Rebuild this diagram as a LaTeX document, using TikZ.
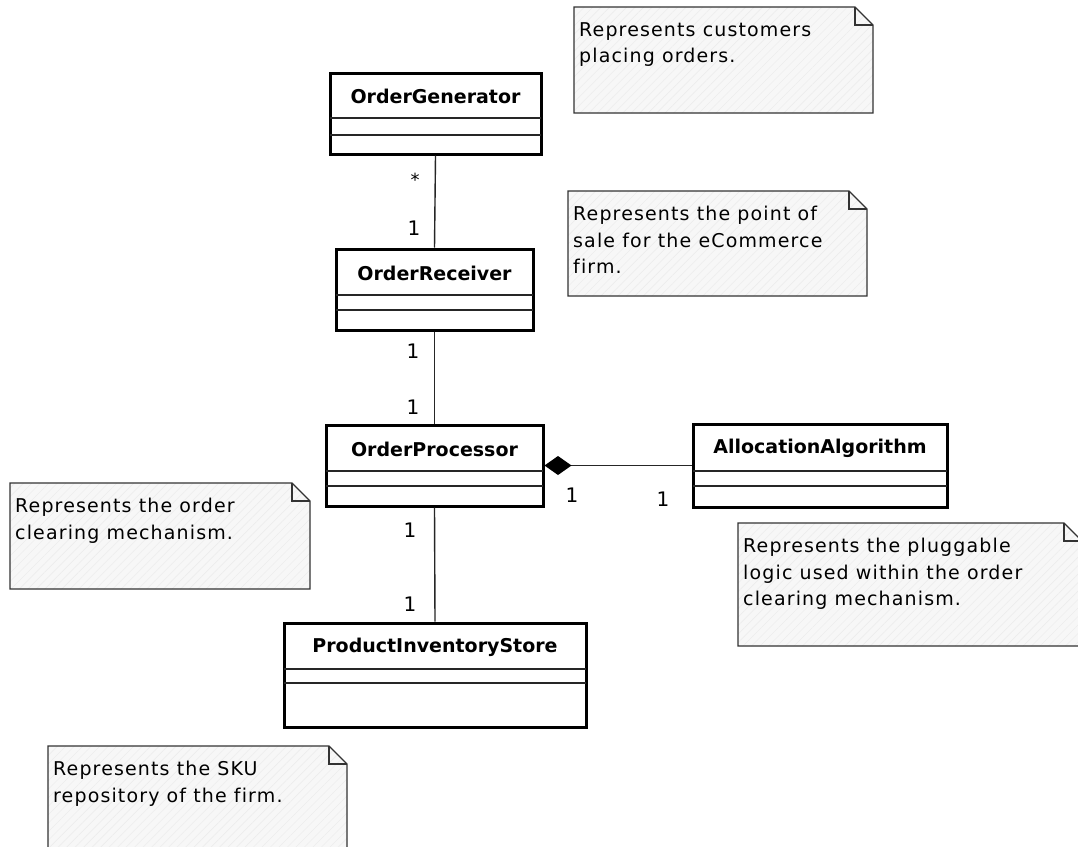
\documentclass[tikz,border=0pt]{standalone}
\usepackage{fontspec}
\setmainfont[Ligatures=NoCommon]{DejaVu Sans}
\usetikzlibrary{arrows.meta,fit,patterns.meta}

\tikzset{
  classframe/.style={draw=black, line width=3pt, fill=white, inner sep=0pt},
  divider/.style={draw=black!85, line width=1.4pt},
  classname/.style={font=\fontsize{19}{22}\selectfont\bfseries, inner sep=0pt},
  assoc/.style={draw=black!85, line width=1.4pt},
  notefill/.style={fill=black!3, postaction={pattern={Lines[angle=45,distance=6pt,line width=0.6pt]}, pattern color=black!7}},
  noteline/.style={draw=black!80, line width=1.3pt, line join=miter},
  notetext/.style={anchor=north west, align=left, inner sep=0pt,
    font=\fontsize{19}{26.5}\selectfont\addfontfeature{LetterSpace=6}},
  mult/.style={font=\fontsize{20}{24}\selectfont, inner sep=0pt},
}

% UML class: name, title, x1, y1, x2, y2, first divider, second divider
\newcommand\umlclass[8]{%
  \node[classframe, fit={(#3,#4)(#5,#6)}] (#1) {};
  \draw[divider] (#3,#7) -- (#5,#7) (#3,#8) -- (#5,#8);
  \node[classname] (#1-name) at ({(#3+#5)/2},{(#4+#7)/2+1}) {#2};
}

% UML note with a folded corner: name, x1, y1, x2, y2, text
\newcommand\umlnote[6]{%
  \path[notefill] (#2,#3) -- (#4-18,#3) -- (#4,#3+18) -- (#4,#5) -- (#2,#5) -- cycle;
  \draw[noteline] (#2,#3) -- (#4-18,#3) -- (#4,#3+18) -- (#4,#5) -- (#2,#5) -- cycle;
  \draw[noteline] (#4-18,#3) -- (#4-18,#3+18) -- (#4,#3+18);
  \node[notetext] (#1) at (#2+5,#3+15) {#6};
}

\begin{document}
\begin{tikzpicture}[x=1pt,y=-1pt]
  \clip (0,0) rectangle (1078,846);
  \fill[white] (0,0) rectangle (1078,846);

  % classes
  \umlclass{og}{OrderGenerator}{330}{73}{541}{154}{118}{135}
  \umlclass{or}{OrderReceiver}{336}{249}{533}{330}{295}{310}
  \umlclass{op}{OrderProcessor}{326}{425}{543}{506}{471}{486}
  \umlclass{aa}{AllocationAlgorithm}{693}{424}{947}{507}{471}{486}
  \umlclass{pis}{ProductInventoryStore}{284}{623}{586}{727}{669}{683}

  % associations
  \draw[assoc] (og.south) -- (or.north);
  \draw[assoc] (or.south) -- (op.north);
  \draw[assoc] (op.south) -- (pis.north);
  \draw[assoc, {Diamond[length=27pt,width=19pt,color=black,fill=black]}-] (op.east) -- (aa.west);

  % multiplicities
  \node[mult, font=\fontsize{18}{20}\selectfont] (m-og) at (415,180) {*};
  \node[mult] (m-or1) at (414,228) {1};
  \node[mult] (m-or2) at (413,351) {1};
  \node[mult] (m-op1) at (413,407) {1};
  \node[mult] (m-op2) at (410,530) {1};
  \node[mult] (m-pis) at (410,604) {1};
  \node[mult] (m-op3) at (572,495) {1};
  \node[mult] (m-aa) at (663,499) {1};

  % notes
  \umlnote{n-og}{574}{7}{873}{113}{Represents customers\\placing orders.}
  \umlnote{n-or}{568}{191}{867}{296}{Represents the point of\\sale for the eCommerce\\firm.}
  \umlnote{n-op}{10}{483}{310}{589}{Represents the order\\clearing mechanism.}
  \umlnote{n-aa}{738}{523}{1082}{646}{Represents the pluggable\\logic used within the order\\clearing mechanism.}
  \umlnote{n-pis}{48}{746}{347}{862}{Represents the SKU\\repository of the firm.}
\end{tikzpicture}
\end{document}
